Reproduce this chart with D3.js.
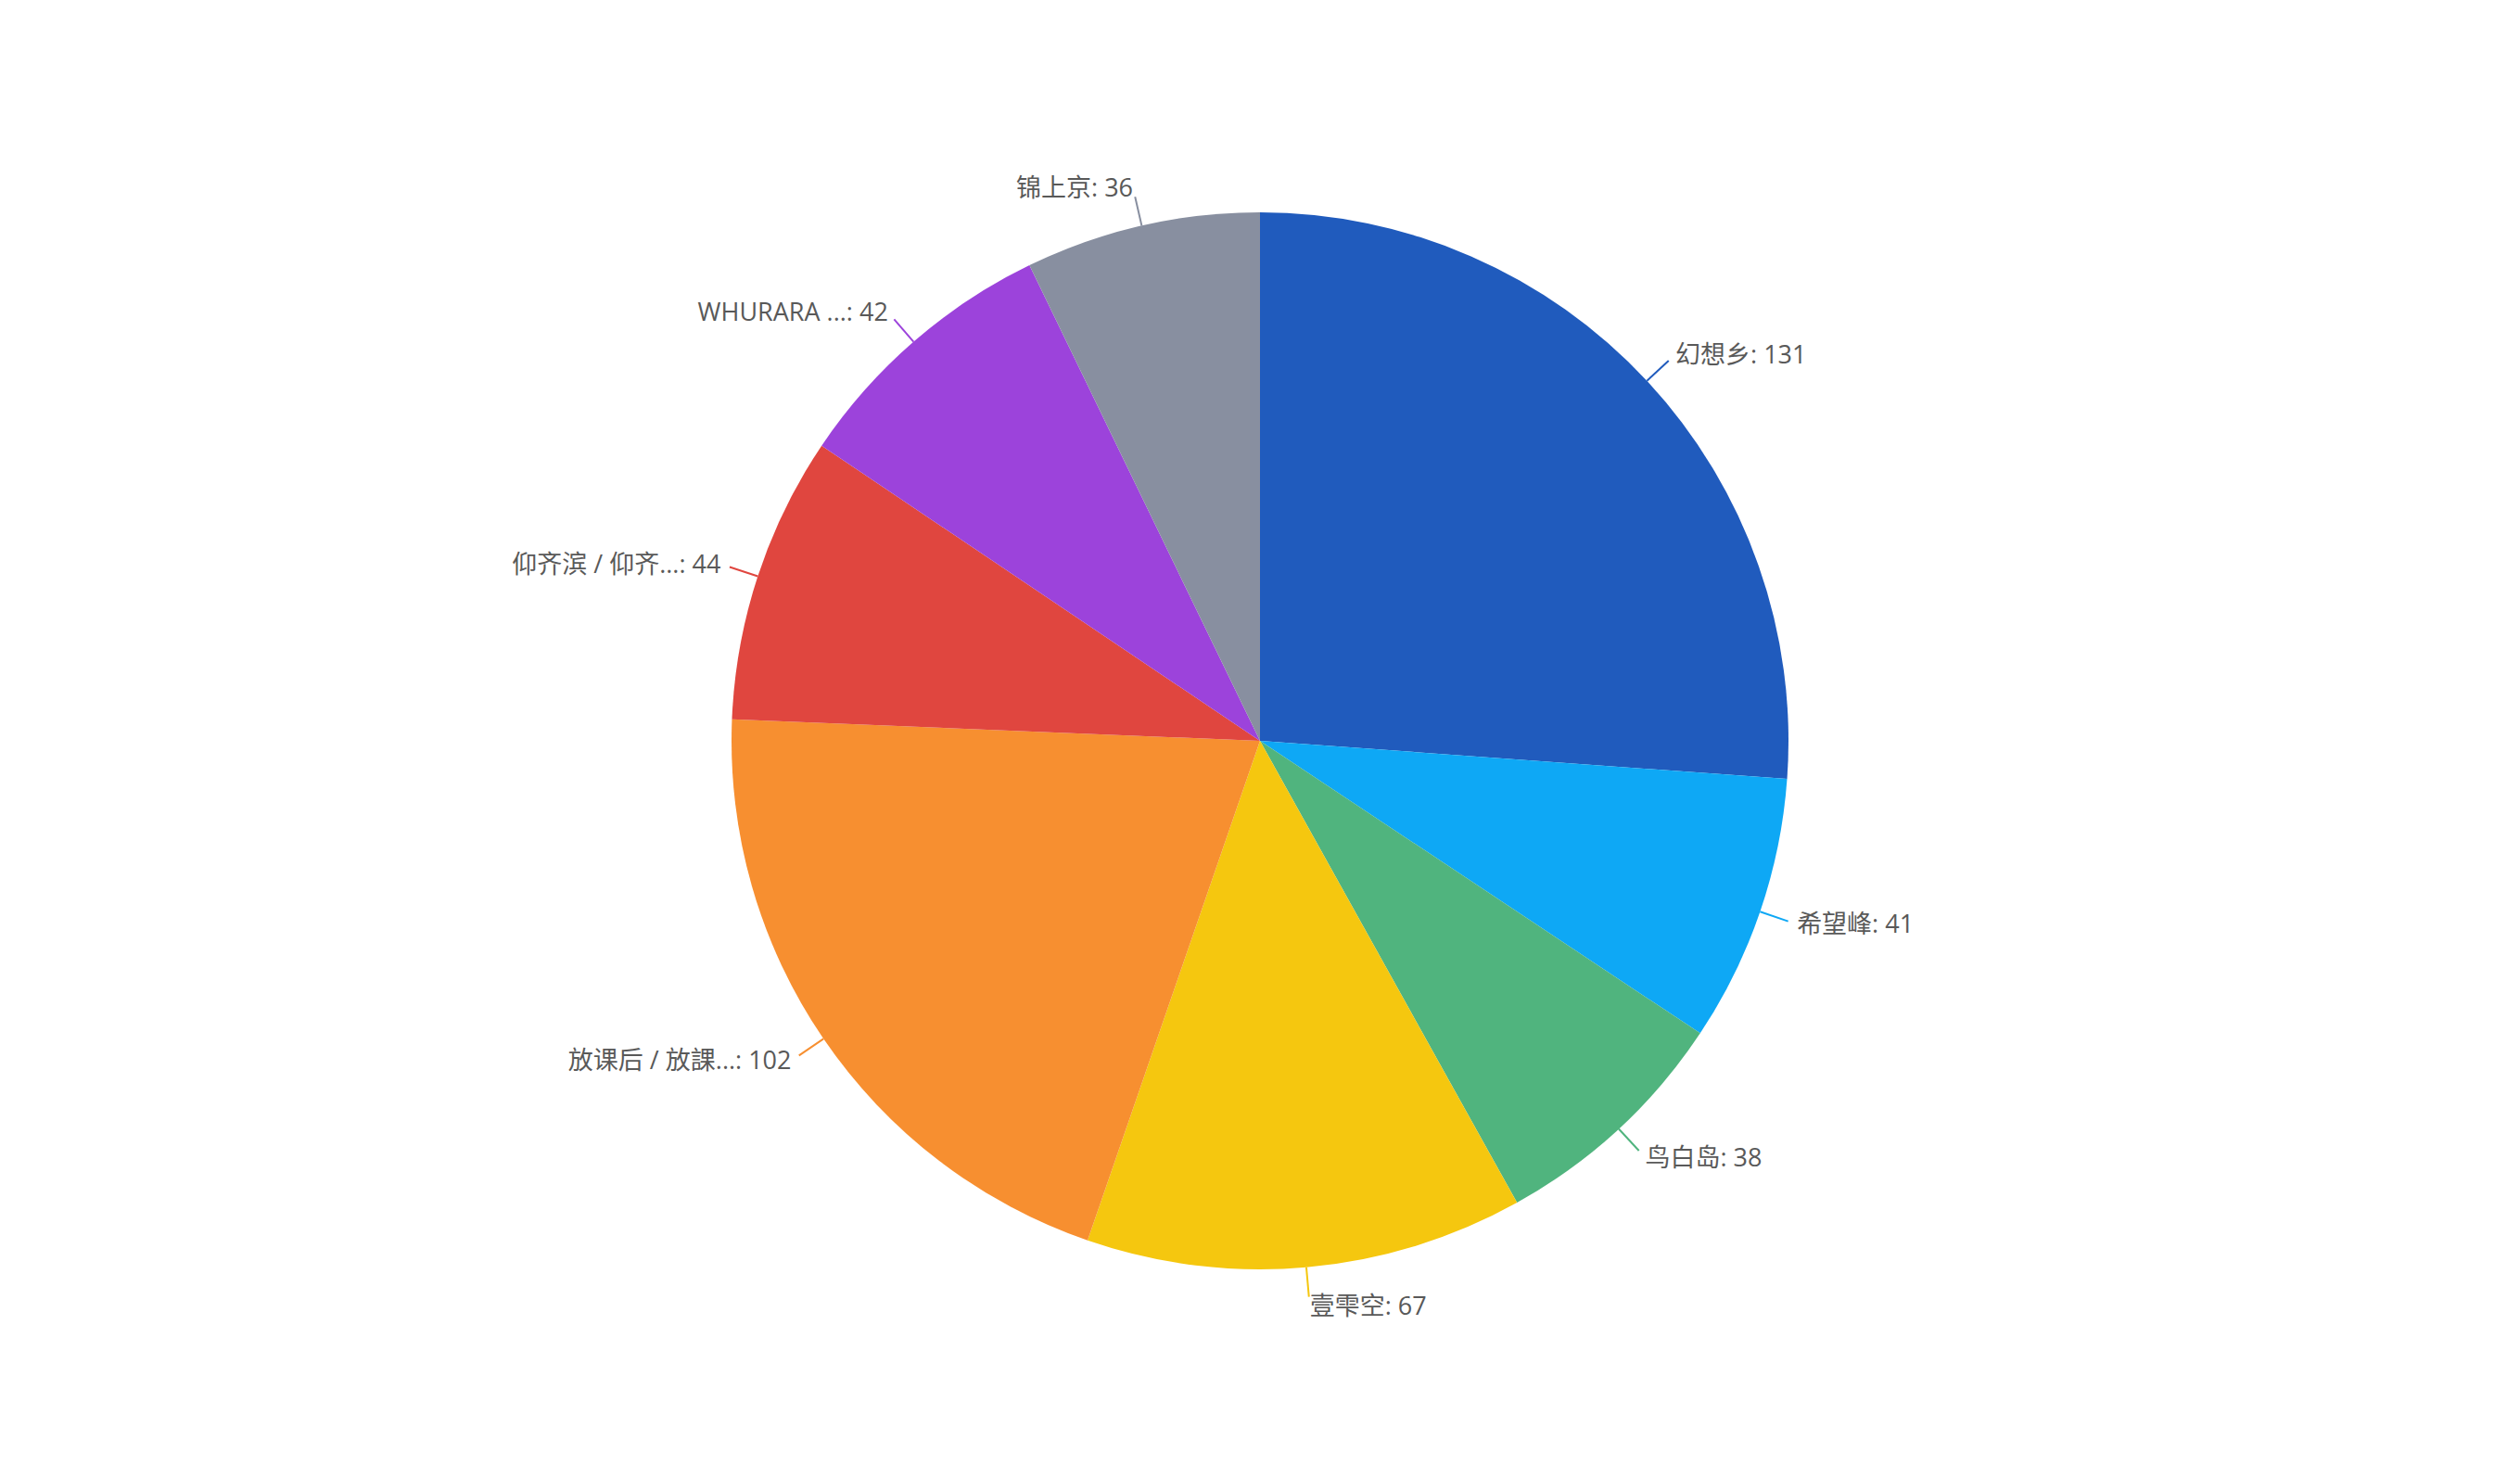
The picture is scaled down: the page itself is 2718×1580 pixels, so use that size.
<!DOCTYPE html>
<html><head><meta charset="utf-8">
<script src="https://cdn.jsdelivr.net/npm/d3@7"></script>
<style>html,body{margin:0;padding:0;background:#fff;}</style>
</head><body>
<svg id="chart" width="2718" height="1580"></svg>
<script>
const categories = ["幻想乡", "希望峰", "鸟白岛", "壹雫空", "放课后 / 放課...", "仰齐滨 / 仰齐...", "WHURARA ...", "锦上京"];
const values = [131, 41, 38, 67, 102, 44, 42, 36];
const colors = ["#205bbd", "#0ea8f5", "#50b47e", "#f5c70f", "#f78f30", "#e0463f", "#9c43db", "#888fa0"];

const W = 2718, H = 1580;
const cx = 1359, cy = 799, R = 570;
const lineLen = 32, textOff = 10;

const svg = d3.select("#chart");
const g = svg.append("g").attr("transform", `translate(${cx},${cy})`);

const data = categories.map((c, i) => ({name: c, value: values[i], color: colors[i]}));
const pie = d3.pie().value(d => d.value).sort(null);
const arcs = pie(data);
const arc = d3.arc().innerRadius(0).outerRadius(R);

g.selectAll("path.slice").data(arcs).join("path")
  .attr("class", "slice")
  .attr("d", arc)
  .attr("fill", d => d.data.color);

arcs.forEach(a => {
  const mid = (a.startAngle + a.endAngle) / 2;
  const dx = Math.sin(mid), dy = -Math.cos(mid);
  const x1 = R * dx, y1 = R * dy;
  const x2 = (R + lineLen) * dx, y2 = (R + lineLen) * dy;
  g.append("polyline")
    .attr("points", `${x1},${y1} ${x2},${y2}`)
    .attr("fill", "none")
    .attr("stroke", a.data.color)
    .attr("stroke-width", 2);
  const right = dx >= 0;
  const rt = R + lineLen + textOff;
  g.append("text")
    .attr("x", rt * dx)
    .attr("y", rt * dy)
    .attr("dy", "0.35em")
    .attr("text-anchor", right ? "start" : "end")
    .attr("font-family", "'Open Sans', 'Noto Sans CJK SC', sans-serif")
    .attr("font-size", 27)
    .attr("fill", "#595959")
    .text(`${a.data.name}: ${a.data.value}`);
});
</script>
</body></html>
